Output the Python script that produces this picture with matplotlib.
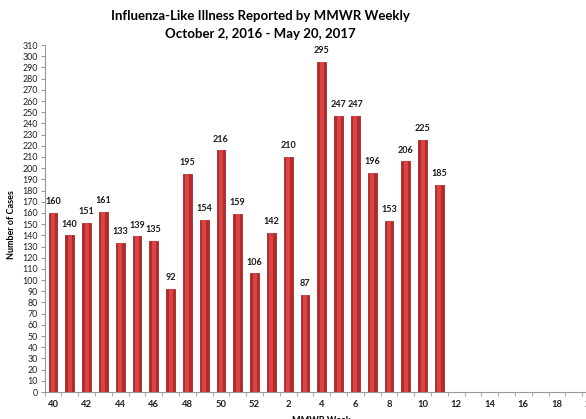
import matplotlib
matplotlib.use('Agg')
import matplotlib.pyplot as plt
import numpy as np

# MMWR weeks shown on the category axis (2016 weeks 40-52, 2017 weeks 1-20)
weeks = list(range(40, 53)) + list(range(1, 21))
# reported ILI cases, only available through week 11
cases = [160, 140, 151, 161, 133, 139, 135, 92, 195, 154, 216, 159, 106,
         142, 210, 87, 295, 247, 247, 196, 153, 206, 225, 185]

plt.rcParams['font.family'] = ['Lato', 'DejaVu Sans']

fig = plt.figure(figsize=(5.86, 4.19), dpi=100)
# axis runs off the right edge, like the original screenshot
ax = fig.add_axes([0.0761, 0.0644, 0.946, 0.828])

x = np.arange(len(cases))
bw = 0.52
ax.bar(x, cases, width=bw, color='#B82828', edgecolor='#8A1A1A', linewidth=0.5, zorder=2)
# lighter stripe for the cylinder look
ax.bar(x, cases, width=bw * 0.45, color='#D94444', linewidth=0, zorder=3)

for xi, v in zip(x, cases):
    ax.text(xi, v + 6, str(v), ha='center', va='bottom', fontsize=6.5,
            fontweight='bold', color='#1a1a1a')

ax.set_xlim(-0.5, len(weeks) - 0.5)
ax.set_ylim(0, 310)
ax.set_yticks(np.arange(0, 311, 10))
ax.tick_params(axis='y', labelsize=6.4, length=3, color='#999999', pad=2, labelcolor='#222222')

label_idx = [i for i, w in enumerate(weeks) if w % 2 == 0]
ax.set_xticks(label_idx)
ax.set_xticklabels([str(weeks[i]) for i in label_idx], fontsize=6.8, fontweight='bold', color='#222222')
ax.tick_params(axis='x', which='major', length=0, pad=6)
ax.set_xticks(np.arange(-0.5, len(weeks), 1), minor=True)
ax.tick_params(axis='x', which='minor', length=3, color='#999999')

for s in ['top', 'right']:
    ax.spines[s].set_visible(False)
for s in ['left', 'bottom']:
    ax.spines[s].set_color('#999999')
    ax.spines[s].set_linewidth(0.8)

ax.set_xlabel('MMWR Week', fontsize=6.5, fontweight='bold', labelpad=5)
fig.text(12 / 586, 1 - 225 / 419, 'Number of Cases', rotation=90, ha='center', va='center',
         fontsize=6.5, fontweight='bold')

fig.text(0.445, 1 - 10 / 419, 'Influenza-Like Illness Reported by MMWR Weekly\nOctober 2, 2016 - May 20, 2017',
         ha='center', va='top', fontsize=9.5, fontweight='bold', linespacing=1.55)

fig.savefig('out.png', dpi=100)
